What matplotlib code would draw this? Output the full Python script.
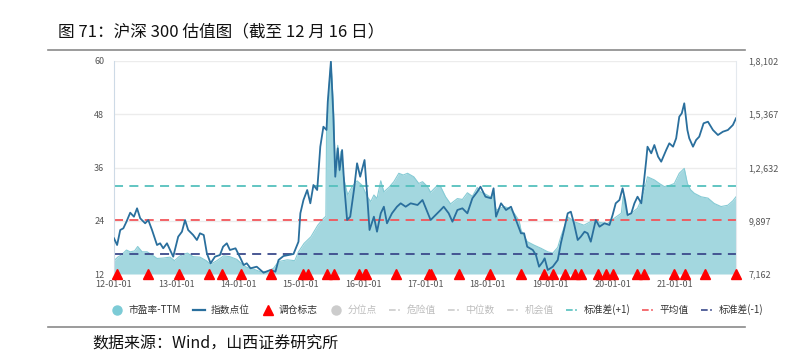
import matplotlib
matplotlib.use('Agg')
import matplotlib.pyplot as plt
from matplotlib.lines import Line2D

plt.rcParams['font.family'] = ['Noto Sans CJK SC', 'DejaVu Sans']

# 指数点位 (right axis), x as decimal year
idx_years = [
    2012.00, 2012.05, 2012.10, 2012.15, 2012.20, 2012.26, 2012.32, 2012.37, 2012.42, 2012.50,
    2012.55, 2012.61, 2012.69, 2012.74, 2012.79, 2012.85, 2012.90, 2012.95, 2013.03, 2013.09,
    2013.14, 2013.19, 2013.27, 2013.33, 2013.38, 2013.44, 2013.49, 2013.55, 2013.62, 2013.70,
    2013.75, 2013.81, 2013.86, 2013.95, 2014.03, 2014.08, 2014.13, 2014.19, 2014.29, 2014.40,
    2014.51, 2014.59, 2014.64, 2014.72, 2014.80, 2014.88, 2014.96, 2014.99, 2015.04, 2015.10,
    2015.15, 2015.20, 2015.26, 2015.28, 2015.31, 2015.36, 2015.41, 2015.43, 2015.48, 2015.52,
    2015.55, 2015.59, 2015.62, 2015.66, 2015.70, 2015.74, 2015.79, 2015.85, 2015.90, 2015.95,
    2016.02, 2016.06, 2016.10, 2016.17, 2016.22, 2016.28, 2016.33, 2016.38, 2016.46, 2016.54,
    2016.60, 2016.68, 2016.76, 2016.87, 2016.95, 2017.08, 2017.24, 2017.29, 2017.37, 2017.43,
    2017.51, 2017.59, 2017.67, 2017.75, 2017.83, 2017.88, 2017.96, 2018.05, 2018.09, 2018.13,
    2018.21, 2018.29, 2018.37, 2018.45, 2018.53, 2018.58, 2018.63, 2018.72, 2018.77, 2018.82,
    2018.88, 2018.91, 2018.96, 2019.04, 2019.12, 2019.17, 2019.22, 2019.28, 2019.33, 2019.38,
    2019.44, 2019.49, 2019.55, 2019.60, 2019.65, 2019.73, 2019.79, 2019.87, 2019.95, 2020.00,
    2020.05, 2020.11, 2020.16, 2020.20, 2020.24, 2020.30, 2020.35, 2020.40, 2020.46, 2020.50,
    2020.54, 2020.56, 2020.62, 2020.67, 2020.73, 2020.78, 2020.86, 2020.91, 2020.97, 2021.02,
    2021.07, 2021.11, 2021.15, 2021.20, 2021.23, 2021.29, 2021.34, 2021.39, 2021.46, 2021.53,
    2021.61, 2021.69, 2021.77, 2021.85, 2021.93, 2021.98,
]
idx_vals = [
    8995, 8651, 9422, 9509, 9848, 10310, 10105, 10536, 10023, 9766,
    9935, 9422, 8651, 8739, 8482, 8739, 8395, 8051, 9078, 9335,
    9935, 9422, 9165, 8908, 9252, 9165, 8225, 7712, 8051, 8138,
    8564, 8739, 8395, 8482, 7968, 7624, 7712, 7455, 7537, 7229,
    7367, 7280, 7881, 8086, 8138, 8189, 8821, 10280, 10963, 11476,
    10793, 11733, 11476, 12334, 13700, 14727, 14558, 16011, 18066, 15241,
    12159, 13618, 12503, 13531, 11476, 9935, 10105, 11476, 12848, 12159,
    13017, 11307, 9422, 10105, 9335, 10280, 10618, 9766, 10280, 10618,
    10793, 10618, 10793, 10706, 10963, 9935, 10449, 10618, 10280, 9848,
    10449, 10536, 10280, 11050, 11389, 11646, 11132, 11050, 11564, 10105,
    10793, 10449, 10618, 9935, 9252, 9252, 8564, 8395, 8138, 7537,
    7794, 7968, 7367, 7537, 7881, 8739, 9422, 10280, 10362, 9766,
    8908, 9078, 9335, 9252, 8821, 9935, 9591, 9766, 9679, 10192,
    10793, 10963, 11564, 10963, 10192, 10280, 10793, 11132, 10793, 11820,
    13017, 13700, 13361, 13787, 13187, 12930, 13531, 13875, 13700, 14132,
    15241, 15416, 15929, 14558, 14132, 13700, 14044, 14214, 14902, 14984,
    14558, 14301, 14471, 14558, 14815, 15159,
]

# 市盈率-TTM (left axis)
pe_years = [
    2012.00, 2012.06, 2012.12, 2012.20, 2012.26, 2012.33, 2012.38, 2012.45, 2012.53, 2012.61,
    2012.69, 2012.79, 2012.90, 2012.97, 2013.05, 2013.12, 2013.18, 2013.27, 2013.38, 2013.48,
    2013.55, 2013.65, 2013.76, 2013.86, 2013.97, 2014.05, 2014.13, 2014.24, 2014.35, 2014.46,
    2014.56, 2014.64, 2014.78, 2014.90, 2014.96, 2015.05, 2015.16, 2015.27, 2015.36, 2015.40,
    2015.41, 2015.43, 2015.48, 2015.52, 2015.55, 2015.59, 2015.62, 2015.64, 2015.68, 2015.71,
    2015.75, 2015.82, 2015.90, 2015.98, 2016.06, 2016.12, 2016.17, 2016.22, 2016.28, 2016.33,
    2016.41, 2016.49, 2016.57, 2016.64, 2016.71, 2016.81, 2016.89, 2016.95, 2017.03, 2017.08,
    2017.19, 2017.24, 2017.32, 2017.40, 2017.51, 2017.59, 2017.67, 2017.75, 2017.83, 2017.88,
    2017.96, 2018.05, 2018.09, 2018.13, 2018.26, 2018.34, 2018.42, 2018.50, 2018.53, 2018.63,
    2018.74, 2018.85, 2018.96, 2019.04, 2019.12, 2019.17, 2019.28, 2019.38, 2019.54, 2019.70,
    2019.80, 2019.92, 2020.00, 2020.14, 2020.17, 2020.24, 2020.30, 2020.40, 2020.46, 2020.52,
    2020.56, 2020.67, 2020.76, 2020.83, 2020.92, 2020.99, 2021.07, 2021.15, 2021.20, 2021.25,
    2021.31, 2021.42, 2021.53, 2021.63, 2021.74, 2021.85, 2021.93, 2021.98,
]
pe_vals = [
    15.0, 15.8, 16.3, 17.4, 17.0, 17.2, 18.2, 17.0, 17.0, 16.3,
    15.5, 15.6, 15.8, 15.0, 16.0, 16.5, 16.7, 15.9, 15.8, 15.0,
    14.2, 15.0, 16.1, 15.9, 15.3, 14.3, 13.5, 13.1, 12.5, 12.6,
    13.3, 14.8, 15.2, 15.0, 17.0, 18.9, 20.4, 23.0, 24.5, 25.0,
    44.0, 50.0, 59.8, 50.0, 36.0, 41.0, 35.0, 39.6, 34.3, 32.0,
    29.8, 31.7, 33.0, 32.0, 29.5, 28.3, 29.8, 29.0, 33.0, 30.5,
    31.5, 32.8, 34.7, 34.3, 34.7, 33.9, 32.4, 32.8, 31.7, 30.4,
    32.0, 31.7, 29.4, 27.8, 29.0, 28.8, 30.3, 29.5, 31.5, 30.5,
    30.0, 29.3, 30.0, 26.4, 27.2, 26.8, 25.7, 24.0, 21.9, 19.3,
    18.5, 17.8, 17.0, 16.7, 18.0, 20.4, 24.9, 23.8, 23.0, 24.2,
    23.6, 23.4, 24.3, 25.7, 29.5, 25.0, 25.7, 26.8, 28.7, 31.5,
    33.9, 33.2, 32.3, 31.7, 32.0, 32.4, 34.7, 35.8, 32.4, 31.0,
    30.2, 29.4, 29.1, 27.9, 27.2, 27.5, 28.5, 29.4,
]

# 调仓标志
rebalance_years = [
    2012.05, 2012.55, 2013.05, 2013.53, 2013.74, 2014.03, 2014.52, 2015.04, 2015.12, 2015.42,
    2015.53, 2015.93, 2016.02, 2016.05, 2016.53, 2017.05, 2017.09, 2017.54, 2018.03, 2018.53,
    2018.90, 2019.04, 2019.23, 2019.40, 2019.50, 2019.76, 2019.89, 2020.00, 2020.39, 2020.50,
    2020.99, 2021.16, 2021.49, 2021.98,
]

pe_std_plus = 31.8
pe_mean = 24.1
pe_std_minus = 16.4

left_ticks = [12, 24, 36, 48, 60]
right_ticks = [7162, 9897, 12632, 15367, 18102]
right_labels = ['7,162', '9,897', '1,2,632', '1,5,367', '1,8,102']
x_ticks = list(range(2012, 2022))
x_labels = ['%02d-01-01' % (y - 2000) for y in x_ticks]

FILL = '#a3d7df'
LINE = '#2a6f9d'
TEAL = '#55c0bd'
RED = '#f2555a'
NAVY = '#3b4a8b'
GREY_TXT = '#bdbdbd'

W, H = 798, 353
fig = plt.figure(figsize=(W / 100, H / 100), dpi=100)
ax = fig.add_axes([114 / W, 1 - 274 / H, (736 - 114) / W, (274 - 61) / H])
ax2 = ax.twinx()

ax.fill_between(pe_years, 12, pe_vals, color=FILL, lw=0, zorder=1)
ax.plot(pe_years, pe_vals, color='#86cbd5', lw=0.8, zorder=1.5)
ax.axhline(pe_std_plus, color=TEAL, lw=1.3, ls=(0, (5, 3.5)), zorder=2)
ax.axhline(pe_mean, color=RED, lw=1.3, ls=(0, (5, 3.5)), zorder=2)
ax.axhline(pe_std_minus, color=NAVY, lw=1.3, ls=(0, (5, 3.5)), zorder=2)

ax.set_xlim(2012.0, 2021.98)
ax.set_ylim(12, 60)
ax.set_yticks(left_ticks)
ax.yaxis.grid(True, color='#ececec', lw=1)
ax.set_axisbelow(True)
ax.set_xticks(x_ticks)
ax.set_xticklabels(x_labels)

ax2.plot(idx_years, idx_vals, color=LINE, lw=1.3, zorder=3)
ax2.plot(rebalance_years, [0] * len(rebalance_years), ls='none', marker='^',
         color='#ff0000', ms=6.5, clip_on=False, zorder=4,
         transform=ax2.get_xaxis_transform())
ax2.set_ylim(7162, 18102)
ax2.set_yticks(right_ticks)
ax2.set_yticklabels(right_labels)

for a in (ax, ax2):
    for s in a.spines.values():
        s.set_visible(False)
    a.tick_params(length=0, labelsize=6.5, labelcolor='#555555')
ax.spines['left'].set_visible(True)
ax.spines['left'].set_color('#cddae6')
ax2.spines['right'].set_visible(True)
ax2.spines['right'].set_color('#e4e9ee')
ax.tick_params(axis='y', pad=7)
ax.tick_params(axis='x', pad=4)
ax2.tick_params(axis='y', pad=9)

# title, rules, source
fig.text(58 / W, 1 - 31.5 / H, '图 71：沪深 300 估值图（截至 12 月 16 日）',
         fontsize=12, va='center', ha='left', color='#111111')
fig.add_artist(Line2D([48 / W, 745 / W], [1 - 49.5 / H] * 2, color='#8a8a8a', lw=1.2))
fig.add_artist(Line2D([48 / W, 745 / W], [1 - 327 / H] * 2, color='#8a8a8a', lw=1.2))
fig.text(92 / W, 1 - 344 / H, '数据来源：Wind，山西证券研究所',
         fontsize=11.5, va='center', ha='left', color='#111111')

# legend
dashdot = (0, (4, 1.5, 1, 1.5))
handles = [
    Line2D([], [], ls='none', marker='o', color='#7ccbd6', ms=6.5),
    Line2D([], [], color=LINE, lw=1.6),
    Line2D([], [], ls='none', marker='^', color='#ff0000', ms=6.5),
    Line2D([], [], ls='none', marker='o', color='#cccccc', ms=6.5),
    Line2D([], [], color='#cccccc', lw=1.2, ls=dashdot),
    Line2D([], [], color='#cccccc', lw=1.2, ls=dashdot),
    Line2D([], [], color='#cccccc', lw=1.2, ls=dashdot),
    Line2D([], [], color=TEAL, lw=1.2, ls=dashdot),
    Line2D([], [], color=RED, lw=1.2, ls=dashdot),
    Line2D([], [], color=NAVY, lw=1.2, ls=dashdot),
]
labels = ['市盈率-TTM', '指数点位', '调仓标志', '分位点', '危险值', '中位数', '机会值',
          '标准差(+1)', '平均值', '标准差(-1)']
leg = fig.legend(handles, labels, loc='center', bbox_to_anchor=(437 / W, 1 - 310 / H),
                 ncol=10, frameon=False, fontsize=7, handlelength=1.3,
                 handletextpad=0.5, columnspacing=1.25)
for i, t in enumerate(leg.get_texts()):
    t.set_color(GREY_TXT if 3 <= i <= 6 else '#333333')

fig.savefig('out.png', dpi=100)
